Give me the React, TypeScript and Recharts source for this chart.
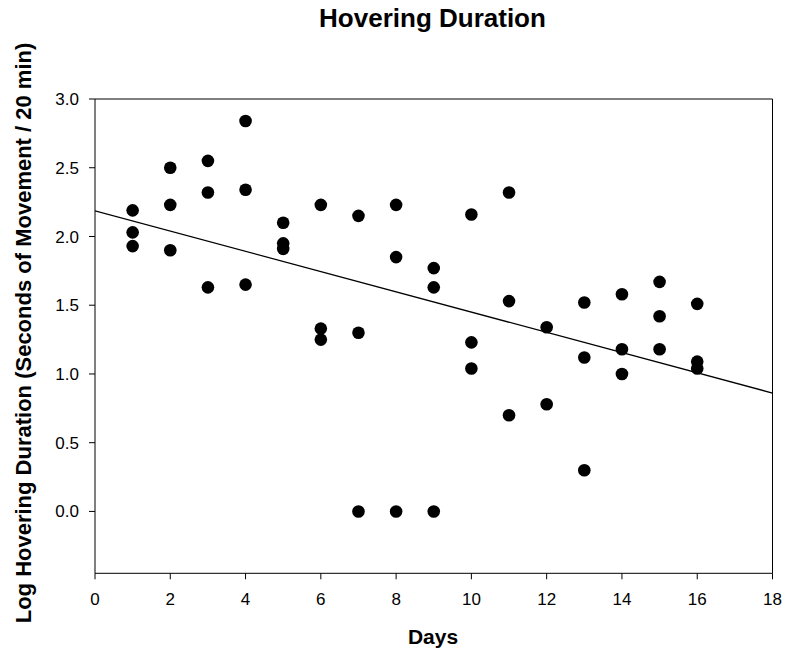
import { ScatterChart, Scatter, XAxis, YAxis, ReferenceLine, Label } from "recharts";

// three recordings per day (day 12 only has two)
const days = [1, 2, 3, 4, 5, 6, 7, 8, 9, 10, 11, 12, 13, 14, 15, 16];
const highValues = [2.19, 2.5, 2.55, 2.84, 2.1, 2.23, 2.15, 2.23, 1.77, 2.16, 2.32, 1.34, 1.52, 1.58, 1.67, 1.51];
const midValues = [2.03, 2.23, 2.32, 2.34, 1.95, 1.33, 1.3, 1.85, 1.63, 1.23, 1.53, 0.78, 1.12, 1.18, 1.42, 1.09];
const lowValues = [1.93, 1.9, 1.63, 1.65, 1.91, 1.25, 0, 0, 0, 1.04, 0.7, null, 0.3, 1.0, 1.18, 1.04];

// regression line end points
const fitDays = [0, 18];
const fitValues = [2.186, 0.861];

const xTicks = [0, 2, 4, 6, 8, 10, 12, 14, 16, 18];
const yTicks = [0, 0.5, 1, 1.5, 2, 2.5, 3];

const FONT = '"Liberation Sans", Arial, sans-serif';

const points = [highValues, midValues, lowValues].flatMap((vals) =>
  vals.flatMap((v, i) => (v == null ? [] : [{ x: days[i], y: v }]))
);
const fit = fitDays.map((d, i) => ({ x: d, y: fitValues[i] }));

const Dot = (props: any) =>
  props.cx == null ? <g /> : <circle cx={props.cx} cy={props.cy} r={6.3} fill="#000" />;

const tickStyle = { fontSize: 17, fill: "#000", fontFamily: FONT };

export default function App() {
  return (
    <div style={{ position: "absolute", left: 0, top: 0, width: 785, height: 656, background: "#fff" }}>
      <svg width={785} height={40} style={{ position: "absolute", left: 0, top: 0 }}>
        <text x={432.5} y={27} textAnchor="middle" fontFamily={FONT} fontWeight="bold" fontSize={26} fill="#000">
          Hovering Duration
        </text>
      </svg>
      <ScatterChart width={785} height={656} margin={{ top: 99, right: 12.5, bottom: 42.7, left: 35 }}>
        <XAxis
          type="number"
          dataKey="x"
          domain={[0, 18]}
          ticks={xTicks}
          allowDataOverflow
          height={40}
          tickSize={6}
          tickMargin={14}
          axisLine={{ stroke: "#000" }}
          tickLine={{ stroke: "#000" }}
          tick={tickStyle}
        >
          <Label
            content={() => (
              <text x={433} y={644} textAnchor="middle" fontFamily={FONT} fontWeight="bold" fontSize={21} fill="#000">
                Days
              </text>
            )}
          />
        </XAxis>
        <YAxis
          type="number"
          dataKey="y"
          domain={[-0.45, 3]}
          ticks={yTicks}
          allowDataOverflow
          width={60}
          tickSize={6}
          tickMargin={10}
          axisLine={{ stroke: "#000" }}
          tickLine={{ stroke: "#000" }}
          tick={tickStyle}
          tickFormatter={(v: number) => v.toFixed(1)}
        >
          <Label
            content={() => (
              <text
                x={31}
                y={333}
                transform="rotate(-90 31 333)"
                textAnchor="middle"
                fontFamily={FONT}
                fontWeight="bold"
                fontSize={22}
                fill="#000"
              >
                Log Hovering Duration (Seconds of Movement / 20 min)
              </text>
            )}
          />
        </YAxis>
        <ReferenceLine y={3} stroke="#000" />
        <ReferenceLine x={18} stroke="#000" />
        <Scatter data={fit} line={{ stroke: "#000", strokeWidth: 1.3 }} shape={() => <g />} isAnimationActive={false} />
        <Scatter data={points} shape={Dot} isAnimationActive={false} />
      </ScatterChart>
    </div>
  );
}
